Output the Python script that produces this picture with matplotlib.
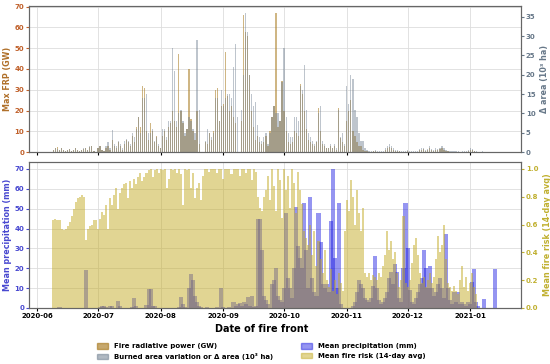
import numpy as np
import pandas as pd
import matplotlib
matplotlib.use("Agg")
import matplotlib.pyplot as plt
import matplotlib.dates as mdates
from matplotlib.patches import Patch

START = "2020-06-01"

# max fire radiative power per day (GW)
frp = [0, 0, 0, 0, 0, 0, 0, 0,
       1, 2, 2.5, 1, 2, 1, 0.5, 1,
       1.5, 0.5, 1, 2, 1, 0.5, 1, 1.5,
       2, 1, 2.5, 3, 0.5, 0.2, 2, 3,
       1, 0.5, 2, 3, 1, 6, 3, 2,
       5, 3, 1, 4, 6, 5, 3, 8,
       5, 12, 17, 12, 32, 31, 10, 6,
       14, 10, 5, 8, 3, 2, 8, 10,
       6, 12, 14, 20, 15, 12, 47, 20,
       14, 8, 11, 40, 16, 10, 6, 20,
       4, 0, 0, 5, 4, 9, 6, 10,
       30, 31, 15, 22, 23, 48, 27, 20,
       22, 17, 14, 0, 0, 15, 66, 58,
       56, 37, 20, 12, 6, 8, 5, 4,
       5, 8, 3, 10, 17, 22, 67, 12,
       15, 34, 20, 10, 5, 4, 5, 10,
       9, 8, 33, 28, 20, 11, 6, 5,
       4, 3, 5, 21, 10, 4, 3, 2,
       2, 3, 2, 3, 1, 21, 7, 5,
       3, 15, 20, 25, 10, 8, 5, 3,
       3, 1, 0.5, 0.5, 0.3, 0.2, 0.4, 0.6,
       0.3, 0.2, 0.3, 0.2, 1.2, 1.8, 2.5, 1.8,
       1.2, 0.6, 0.5, 0.4, 0.3, 0.2, 0.3, 0.5,
       0.3, 0.2, 0.3, 0.2, 0.3, 1, 1.2, 1.5,
       0.6, 1, 1.8, 1, 0.6, 1.2, 1, 1.5,
       1.8, 1.2, 0.7, 0.5, 0.2, 0.3, 0.2, 0.2,
       0.3, 0.1, 0.2, 0.3, 0.2, 0.6, 1.2, 1,
       0.5, 0.2, 0.1, 0.1, 0.2, 0.1, 0.1, 0.1,
       0, 0]

# burned area variation (10^3 ha)
area = [0, 0, 0, 0, 0, 0, 0, 0,
        0.5, 1, 0.8, 0.5, 1, 0.5, 0.3, 0.5,
        0.8, 0.3, 0.5, 1, 0.5, 0.3, 0.6, 1,
        1.2, 0.5, 1.5, 1.6, 0.3, 0.1, 1, 1.6,
        0.6, 0.3, 1.5, 2.6, 1, 5.7, 2, 1.5,
        3, 2, 1, 3, 3.5, 3, 2, 5,
        4, 6, 9, 5, 14, 14, 15, 5,
        5, 6, 3, 4, 2, 1, 6, 6,
        4, 8, 8, 27, 21, 8, 10, 11,
        8, 5, 6, 9, 8, 6, 5, 29,
        11, 0, 0, 3, 6, 5, 4, 5,
        14, 14, 8, 16, 12, 14, 15, 15,
        14, 22, 28, 9, 0, 11, 20, 36,
        31, 20, 15, 12, 13, 7, 4, 3,
        4, 5, 2, 5, 9, 12, 10, 10,
        8, 18, 27, 9, 5, 4, 4, 9,
        9, 8, 17, 16, 22.5, 11, 5, 4,
        3, 2, 3, 10, 12, 3, 2, 1,
        1, 2, 1, 2, 1, 11, 4, 5,
        2, 17, 12.5, 20, 19, 11, 9, 5,
        3, 3, 1, 0.5, 0.4, 0.3, 0.3, 0.5,
        0.3, 0.2, 0.3, 0.2, 1, 1.5, 2, 1.5,
        1, 0.5, 0.5, 0.4, 0.3, 0.2, 0.3, 0.5,
        0.3, 0.2, 0.3, 0.2, 0.3, 0.8, 1, 1.2,
        0.5, 0.8, 1.5, 0.8, 0.5, 1, 0.8, 1.2,
        1.5, 1, 0.6, 0.4, 0.2, 0.3, 0.2, 0.2,
        0.3, 0.1, 0.2, 0.3, 0.2, 0.5, 1, 0.8,
        0.4, 0.2, 0.1, 0.1, 0.2, 0.1, 0.1, 0.1,
        0, 0]

# mean precipitation (mm)
precip = [0, 0, 0, 0, 0, 0, 0, 0,
          0, 0, 0, 0.5, 0, 0, 0, 0,
          0, 0, 0, 0, 0, 0, 0, 0,
          19, 0, 0, 0, 0, 0, 0, 0.5,
          1, 0.8, 0.5, 0, 1.2, 1.2, 0, 0,
          3.5, 1, 0, 0, 0, 0, 0, 0.5,
          5, 1, 0, 0, 0, 0, 1.5, 9.5,
          9.5, 1, 1, 0, 0, 0, 0, 0,
          0, 0, 0, 0, 0, 0, 0.5, 5.5,
          2, 0.5, 0, 10, 17, 14, 6, 3,
          1, 0.5, 0, 0, 0.5, 0, 0, 0,
          0, 0.5, 0, 10, 0.5, 0, 0, 0.5,
          0, 3, 1, 2, 2.5, 1, 3, 2,
          5.5, 1, 5.8, 0.5, 1, 45, 45, 29,
          6, 4, 2, 0, 12, 14, 20, 6,
          4, 3, 10, 48, 15, 10, 5, 20,
          51, 31, 25, 20, 53, 29, 10, 56,
          15, 8, 6, 48, 33, 12, 10, 12,
          8, 44, 70, 25, 10, 53, 2, 0,
          0, 0, 0, 0, 1, 3, 8, 14,
          12, 10, 5, 4, 3, 5, 11, 26,
          10, 4, 2, 3, 5, 8, 15, 18,
          12, 22, 18, 5, 3, 20, 53, 30,
          9, 3, 2, 5, 8, 12, 15, 29,
          20, 10, 21, 10, 6, 8, 12, 15,
          10, 5, 37, 10, 4, 2, 8, 3,
          8, 2, 3, 2, 1, 3, 2, 13,
          19.6, 3, 1, 0, 0, 4.5, 0, 0,
          0, 0, 19.6, 0]

# mean fire risk, 14-day average (0-1)
risk = [0, 0, 0, 0, 0, 0, 0, 0,
        .63, .64, .63, .63, .57, .56, .57, .59,
        .62, .66, .71, .76, .79, .80, .81, .80,
        .49, .57, .59, .60, .63, .63, .57, .64,
        .69, .67, .74, .57, .79, .74, .81, .86,
        .71, .83, .86, .89, .90, .79, .91, .86,
        .93, .89, .94, .97, .91, .94, .97, .99,
        1.0, .94, .99, 1.0, .97, 1.0, .99, 1.0,
        .86, .93, 1.0, .99, 1.0, .97, 1.0, .96,
        .74, 1.0, .99, 1.0, .86, .97, .79, .86,
        .90, .78, .95, 1.0, 1.0, .98, 1.0, 1.0,
        1.0, .97, 1.0, 1.0, .93, 1.0, 1.0, 1.0,
        .96, 1.0, 1.0, 1.0, .95, 1.0, 1.0, .97,
        1.0, 1.0, .92, 1.0, .98, .80, .72, .70,
        .80, .85, .95, .78, 1.0, .88, .70, 1.0,
        .92, .65, 1.0, .85, .95, .72, 1.0, .90,
        .68, .98, .85, .75, .55, .50, .45, .60,
        .38, .55, .30, .48, .35, .25, .42, .20,
        .15, .28, .12, .20, .10, .25, .18, .12,
        .55, .78, .70, .92, .80, .60, .85, .68,
        .55, .72, .25, .22, .25, .20, .24, .22,
        .20, .25, .22, .30, .38, .55, .42, .48,
        .35, .40, .25, .15, .20, .66, .18, .15,
        .20, .32, .45, .50, .38, .25, .18, .22,
        .15, .20, .25, .18, .22, .35, .52, .40,
        .45, .60, .35, .18, .15, .12, .16, .12,
        .10, .20, .30, .15, .22, .12, .18, .25,
        .15, .10]

FRP_C = "#a87a20"
AREA_C = "slategray"
RAIN_C = "#1515e0"
RISK_C = "#c4ac28"

plt.rcParams["font.family"] = "DejaVu Sans"
plt.rcParams["font.weight"] = "bold"

top_days = pd.date_range(START, periods=len(frp), freq="D")
rain_days = pd.date_range(START, periods=len(precip), freq="D")
risk_days = pd.date_range(START, periods=len(risk), freq="D")

fig = plt.figure(figsize=(5.5, 3.64), dpi=100)
ax1 = fig.add_axes([0.053, 0.582, 0.894, 0.402])
ax3 = fig.add_axes([0.053, 0.154, 0.894, 0.401], sharex=ax1)
ax2 = ax1.twinx()
ax4 = ax3.twinx()

ax1.bar(top_days, frp, width=0.6, color=FRP_C, alpha=0.55)
ax2.bar(top_days, area, width=0.6, color=AREA_C, alpha=0.45)

# precipitation underneath, fire risk drawn over it
ax3.bar(rain_days, precip, width=2.0, color=RAIN_C, alpha=0.45)
ax4.bar(risk_days, risk, width=1.0, color=RISK_C, alpha=0.5)

ax1.set_ylim(0, max(frp) * 1.05)
ax2.set_ylim(0, max(area) * 1.05)
ax3.set_ylim(0, max(precip) * 1.05)
ax4.set_ylim(0, max(risk) * 1.05)
ax1.set_yticks(range(0, 71, 10))
ax2.set_yticks(range(0, 36, 5))
ax3.set_yticks(range(0, 71, 10))
ax4.set_yticks(np.arange(0, 1.01, 0.2))

ax1.set_xlim(pd.Timestamp("2020-05-28"), pd.Timestamp("2021-01-26"))
ax1.xaxis.set_major_locator(mdates.MonthLocator())
ax1.xaxis.set_major_formatter(mdates.DateFormatter("%Y-%m"))
plt.setp(ax1.get_xticklabels(), visible=False)

lab = dict(fontsize=5.8, fontweight="bold")
ax1.set_ylabel("Max FRP (GW)", color="#b0702a", labelpad=2, **lab)
ax2.set_ylabel("Δ area (10³ ha)", color="#667788", labelpad=3, **lab)
ax3.set_ylabel("Mean precipitation (mm)", color="#4848d0", labelpad=2, **lab)
ax4.set_ylabel("Mean fire risk (14-day avg)", color="#c0b030", labelpad=3, **lab)

for ax, c in [(ax1, "#c0602a"), (ax2, "#667788"), (ax3, "#4848d0"), (ax4, "#c0b030")]:
    ax.tick_params(axis="y", labelsize=5, colors=c, length=2, pad=1.5)
for ax in (ax1, ax3):
    ax.tick_params(axis="x", labelsize=5, length=2, pad=1.5)
    ax.grid(True, color="#dddddd", linewidth=0.6)
    ax.set_axisbelow(True)
for ax in (ax1, ax2, ax3, ax4):
    for s in ax.spines.values():
        s.set_color("#666666")
        s.set_linewidth(0.8)

fig.text(0.475, 0.095, "Date of fire front", ha="center", va="center",
         fontsize=7, fontweight="bold")

handles = [Patch(color=FRP_C, alpha=0.65), Patch(color=AREA_C, alpha=0.55),
           Patch(color=RAIN_C, alpha=0.45), Patch(color=RISK_C, alpha=0.5)]
labels = ["Fire radiative power (GW)", "Burned area variation or Δ area (10³ ha)",
          "Mean precipitation (mm)", "Mean fire risk (14-day avg)"]
fig.legend(handles, labels, loc="lower center", bbox_to_anchor=(0.475, -0.005),
           ncol=2, frameon=False, prop=dict(size=5, weight="bold"),
           handlelength=1.6, handleheight=0.8, columnspacing=4, labelspacing=0.45)

fig.savefig("out.png", dpi=100)
